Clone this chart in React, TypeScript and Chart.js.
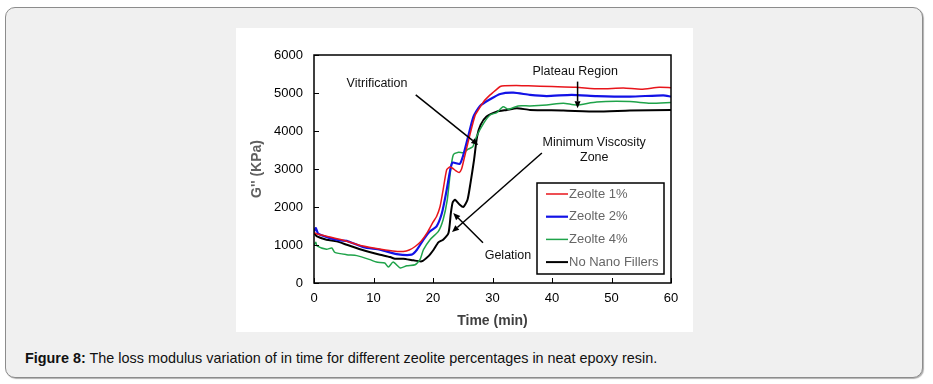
import React, { useEffect, useRef } from "react";
import { Chart, registerables } from "chart.js";

Chart.register(...registerables);

// ---------- Data ----------
const X_MIN = 0;
const X_MAX = 60;
const X_STEP = 10;
const Y_MIN = 0;
const Y_MAX = 6000;
const Y_STEP = 1000;

const seriesLabels = ["Zeolte 1%", "Zeolte 2%", "Zeolte 4%", "No Nano Fillers"];

const timeZ1 = [0, 0.5, 2.7, 5.5, 8, 10, 12, 14, 15, 16, 17, 18, 19, 20, 20.6, 21.2, 21.7, 22.3, 22.8, 23.3, 23.8, 24.4, 24.8, 25.2, 26.2, 27.1, 27.6, 28.5, 29.6, 30.5, 31.3, 32, 34, 36, 40, 44, 48, 52, 55, 58, 60];
const valZ1 = [1330, 1290, 1210, 1100, 980, 920, 870, 830, 830, 870, 960, 1100, 1320, 1600, 1750, 2020, 2450, 2980, 3050, 3020, 2960, 2910, 3000, 3250, 3900, 4420, 4550, 4770, 4950, 5070, 5170, 5190, 5200, 5190, 5170, 5150, 5110, 5130, 5100, 5150, 5140];

const timeZ2 = [0, 0.3, 0.7, 2.7, 4.4, 5.5, 8.3, 11.1, 13.9, 16.4, 17.3, 18.4, 19.5, 20.6, 21.5, 22.3, 22.9, 23.3, 24.5, 25.1, 25.9, 26.8, 27.9, 29.6, 31.3, 33.5, 36.3, 39.1, 43.3, 47.5, 53.1, 58.7, 60];
const valZ2 = [1350, 1445, 1300, 1180, 1120, 1110, 940, 876, 760, 745, 876, 1140, 1360, 1490, 1840, 2450, 2980, 3170, 3135, 3370, 3850, 4380, 4660, 4835, 4975, 5010, 4950, 4920, 4950, 4920, 4905, 4940, 4905];

const timeZ4 = [0, 0.3, 0.5, 2.1, 3, 3.5, 5.5, 7.2, 9.4, 10.5, 11.9, 12.5, 13.3, 14.5, 15.6, 17, 17.8, 18.4, 19.5, 20.9, 21.7, 22.4, 22.9, 23.4, 24.3, 25.1, 25.9, 26.7, 27.3, 28.5, 29.6, 30.7, 31.8, 32.7, 34.3, 36.3, 39.1, 41.9, 44.1, 47.5, 53.1, 56.5, 60];
const valZ4 = [1000, 1070, 980, 890, 920, 805, 745, 720, 615, 550, 525, 420, 550, 395, 455, 480, 615, 876, 1140, 1360, 1665, 2190, 2890, 3370, 3440, 3430, 3520, 3590, 3850, 4200, 4420, 4485, 4640, 4570, 4660, 4660, 4685, 4730, 4685, 4765, 4775, 4730, 4750];

const timeNF = [0, 0.5, 2.1, 3.8, 5.5, 8.3, 11.1, 12.8, 13.6, 15, 16.7, 18.1, 19.2, 20.1, 20.9, 21.7, 22.6, 23, 23.3, 23.7, 24.5, 25.1, 25.8, 26.3, 26.9, 27.4, 28, 29, 30.7, 32.4, 34.1, 36.3, 41.9, 47.5, 53.1, 60];
const valNF = [1314, 1226, 1140, 1095, 1007, 860, 745, 683, 640, 640, 596, 570, 700, 876, 1070, 1140, 1314, 1840, 2120, 2190, 2060, 2000, 2190, 2630, 3240, 3850, 4160, 4380, 4510, 4555, 4600, 4555, 4540, 4510, 4540, 4555];

// Annotations (in data units)
const annotationTexts = ["Plateau Region", "Vitrification", "Minimum Viscosity", "Zone", "Gelation"];
const annotationX = [43.9, 10.6, 47.1, 47.1, 32.6];
const annotationY = [5560, 5240, 3690, 3300, 720];

const arrowFromX = [44.3, 17.1, 38.3, 28.4];
const arrowFromY = [5300, 4950, 3420, 1060];
const arrowToX = [44.3, 27.6, 23.2, 23.4];
const arrowToY = [4600, 3630, 1340, 1840];

// ---------- Styles ----------
const COLORS = ["#e8151b", "#1212e6", "#1fa34a", "#000000"];
const WIDTHS = [1.5, 2.2, 1.5, 2];
const FONT = "'Liberation Sans', Arial, sans-serif";

function toPoints(ts: number[], vs: number[]) {
  return ts.map((t, i) => ({ x: t, y: vs[i] }));
}

const customDraw = {
  id: "customDraw",
  afterDatasetsDraw(chart: any) {
    const { ctx, chartArea } = chart;
    const xs = chart.scales.x;
    const ys = chart.scales.y;
    const { left, right, top, bottom } = chartArea;
    ctx.save();

    // frame
    ctx.strokeStyle = "#000";
    ctx.lineWidth = 1.5;
    ctx.strokeRect(left, top, right - left, bottom - top);

    // inside ticks
    ctx.lineWidth = 1;
    ctx.beginPath();
    for (let v = X_MIN; v <= X_MAX; v += X_STEP) {
      const px = Math.round(xs.getPixelForValue(v)) + 0.5;
      ctx.moveTo(px, bottom);
      ctx.lineTo(px, bottom - 5);
    }
    for (let v = Y_MIN; v <= Y_MAX; v += Y_STEP) {
      const py = Math.round(ys.getPixelForValue(v)) + 0.5;
      ctx.moveTo(left, py);
      ctx.lineTo(left + 5, py);
    }
    ctx.stroke();

    // annotation texts
    ctx.fillStyle = "#111";
    ctx.font = `12.5px ${FONT}`;
    ctx.textAlign = "center";
    ctx.textBaseline = "middle";
    annotationTexts.forEach((t, i) => {
      ctx.fillText(t, xs.getPixelForValue(annotationX[i]), ys.getPixelForValue(annotationY[i]));
    });

    // arrows
    ctx.strokeStyle = "#000";
    ctx.fillStyle = "#000";
    ctx.lineWidth = 1.5;
    arrowFromX.forEach((_, i) => {
      const x1 = xs.getPixelForValue(arrowFromX[i]);
      const y1 = ys.getPixelForValue(arrowFromY[i]);
      const x2 = xs.getPixelForValue(arrowToX[i]);
      const y2 = ys.getPixelForValue(arrowToY[i]);
      const ang = Math.atan2(y2 - y1, x2 - x1);
      const hl = 7;
      const hw = 3;
      const bx = x2 - hl * Math.cos(ang);
      const by = y2 - hl * Math.sin(ang);
      ctx.beginPath();
      ctx.moveTo(x1, y1);
      ctx.lineTo(bx, by);
      ctx.stroke();
      ctx.beginPath();
      ctx.moveTo(x2, y2);
      ctx.lineTo(bx + hw * Math.sin(ang), by - hw * Math.cos(ang));
      ctx.lineTo(bx - hw * Math.sin(ang), by + hw * Math.cos(ang));
      ctx.closePath();
      ctx.fill();
    });

    // legend box
    const lgRight = right - 7;
    const lgBottom = bottom - 9;
    const lgW = 127;
    const lgH = 91;
    const lgLeft = lgRight - lgW;
    const lgTop = lgBottom - lgH;
    ctx.fillStyle = "#fff";
    ctx.fillRect(lgLeft, lgTop, lgW, lgH);
    ctx.strokeStyle = "#000";
    ctx.lineWidth = 1.5;
    ctx.strokeRect(lgLeft, lgTop, lgW, lgH);
    ctx.font = `13px ${FONT}`;
    ctx.textAlign = "left";
    ctx.textBaseline = "middle";
    seriesLabels.forEach((lab, i) => {
      const y = lgTop + 11 + i * 22.7;
      ctx.strokeStyle = COLORS[i];
      ctx.lineWidth = WIDTHS[i];
      ctx.beginPath();
      ctx.moveTo(lgLeft + 9, y);
      ctx.lineTo(lgLeft + 31, y);
      ctx.stroke();
      ctx.fillStyle = "#666";
      ctx.fillText(lab, lgLeft + 32, y);
    });

    // axis titles
    ctx.fillStyle = "#404040";
    ctx.font = `bold 14px ${FONT}`;
    ctx.textAlign = "center";
    ctx.textBaseline = "middle";
    ctx.fillText("Time (min)", (left + right) / 2, bottom + 38);
    ctx.save();
    ctx.translate(left - 57, (top + bottom) / 2);
    ctx.rotate(-Math.PI / 2);
    ctx.fillStyle = "#606060";
    ctx.fillText("G'' (KPa)", 0, 0);
    ctx.restore();

    ctx.restore();
  },
};

function ChartCanvas() {
  const ref = useRef<HTMLCanvasElement | null>(null);
  useEffect(() => {
    if (!ref.current) return;
    const datasets = [
      toPoints(timeZ1, valZ1),
      toPoints(timeZ2, valZ2),
      toPoints(timeZ4, valZ4),
      toPoints(timeNF, valNF),
    ].map((pts, i) => ({
      label: seriesLabels[i],
      data: pts,
      borderColor: COLORS[i],
      backgroundColor: COLORS[i],
      borderWidth: WIDTHS[i],
      pointRadius: 0,
      tension: 0.2,
      fill: false,
    }));
    const chart = new Chart(ref.current, {
      type: "line",
      data: { datasets },
      options: {
        animation: false,
        responsive: false,
        maintainAspectRatio: false,
        layout: { padding: { left: 0, right: 22, top: 27, bottom: 0 } },
        plugins: {
          legend: { display: false },
          tooltip: { enabled: false },
        },
        scales: {
          x: {
            type: "linear",
            min: X_MIN,
            max: X_MAX,
            grid: { display: false, drawTicks: false },
            border: { display: false },
            ticks: {
              stepSize: X_STEP,
              color: "#000",
              font: { family: FONT, size: 13 },
              padding: 8,
              maxRotation: 0,
              callback: (v: any) => String(v),
            },
            afterFit: (s: any) => {
              s.height = 49;
            },
          },
          y: {
            type: "linear",
            min: Y_MIN,
            max: Y_MAX,
            grid: { display: false, drawTicks: false },
            border: { display: false },
            ticks: {
              stepSize: Y_STEP,
              color: "#000",
              font: { family: FONT, size: 13 },
              padding: 11,
              callback: (v: any) => String(v),
            },
            afterFit: (s: any) => {
              s.width = 78;
            },
          },
        },
      },
      plugins: [customDraw],
    } as any);
    return () => chart.destroy();
  }, []);
  return <canvas ref={ref} width={457} height={304} style={{ display: "block" }} />;
}

export default function App() {
  return (
    <div style={{ position: "absolute", left: 0, top: 0, width: 933, height: 384, background: "#fff", fontFamily: FONT }}>
      <div
        style={{
          position: "absolute",
          left: 5,
          top: 7,
          width: 916,
          height: 369,
          border: "1.5px solid #8c8c8c",
          borderRadius: 10,
          background: "#f0f0f0",
          boxShadow: "1px 1px 1px #b0b0b0",
        }}
      />
      <div style={{ position: "absolute", left: 236, top: 28, width: 457, height: 304, background: "#fff" }}>
        <ChartCanvas />
      </div>
      <div
        style={{
          position: "absolute",
          left: 25,
          top: 348,
          fontSize: 14.4,
          color: "#111",
          whiteSpace: "nowrap",
          lineHeight: "20px",
        }}
      >
        <b>Figure 8:</b> The loss modulus variation of in time for different zeolite percentages in neat epoxy resin.
      </div>
    </div>
  );
}
